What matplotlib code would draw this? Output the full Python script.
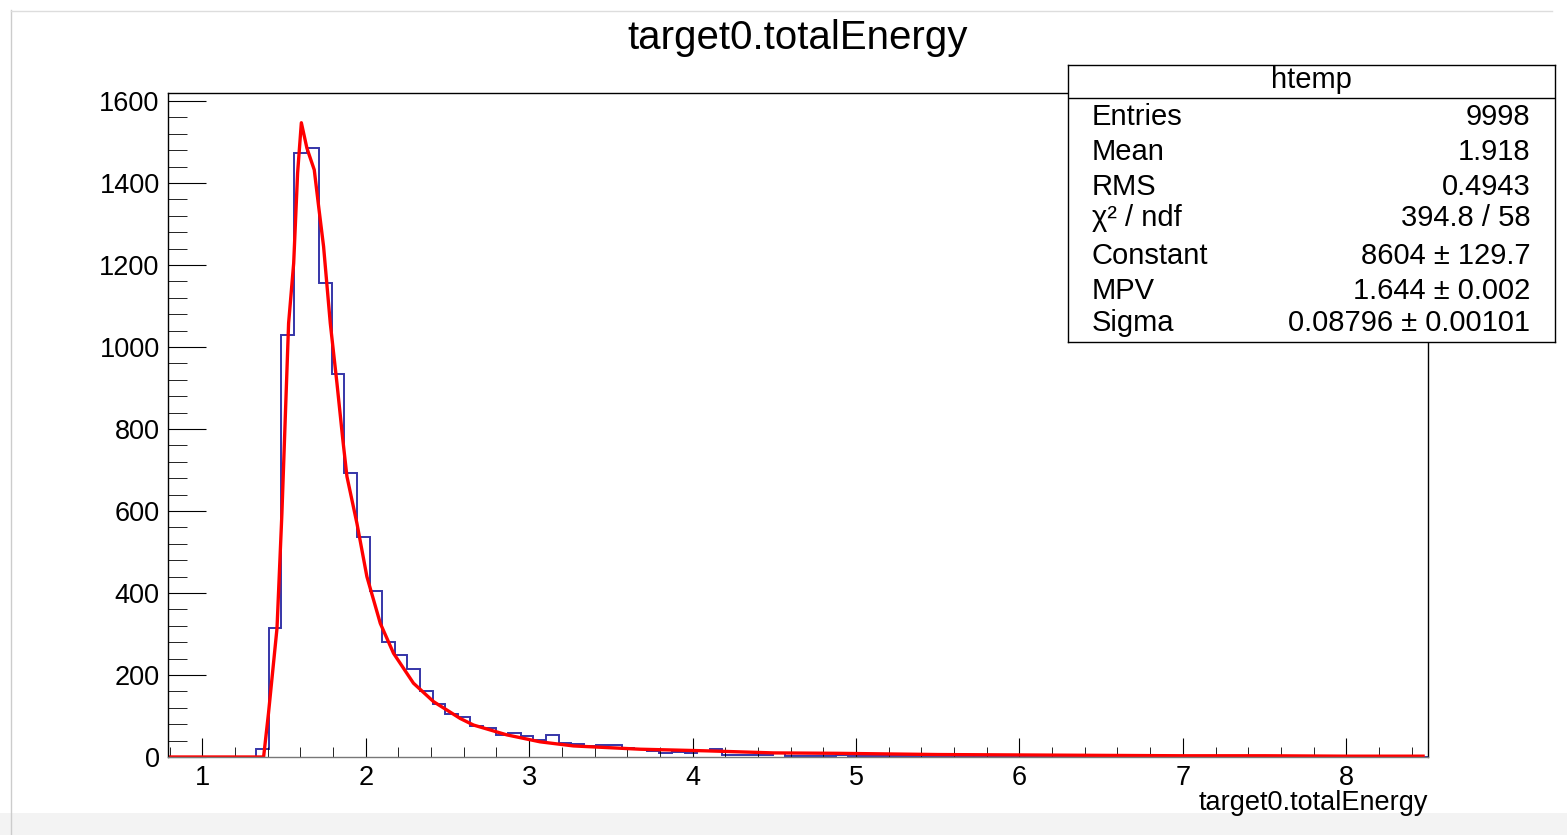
import numpy as np
import matplotlib
matplotlib.use("Agg")
import matplotlib.pyplot as plt
from matplotlib.ticker import MultipleLocator
from matplotlib.lines import Line2D
from matplotlib.patches import Rectangle

plt.rcParams['font.family'] = ['Liberation Sans', 'DejaVu Sans']

# histogram: 100 bins between 0.79 and 8.50
x_min, x_max, n_bins = 0.79, 8.50, 100
counts = [0] * n_bins
first_bins = [20, 314, 1029, 1474, 1486, 1155, 933, 693, 537, 404, 280, 248, 215,
              161, 129, 105, 97, 76, 70, 54, 58, 52, 41, 54, 35, 32, 28, 29, 29,
              22, 20, 15, 10, 12, 10, 15, 19, 5, 5, 5, 5, 9, 3, 3, 3, 3,
              4, 3, 3, 2, 3, 2, 3, 2, 2, 3, 2, 1, 2, 2, 1, 2, 1, 1]
counts[7:7 + len(first_bins)] = first_bins
edges = np.linspace(x_min, x_max, n_bins + 1)

# Landau fit curve
fit_x = [0.79, 1.30, 1.375, 1.405, 1.457, 1.487, 1.528, 1.559, 1.583, 1.606, 1.640,
         1.685, 1.712, 1.742, 1.783, 1.824, 1.860, 1.885, 1.946, 2.007, 2.089, 2.170,
         2.292, 2.415, 2.578, 2.659, 2.863, 3.067, 3.271, 3.679, 4.087, 4.494, 4.88,
         5.5, 6.0, 6.5, 7.0, 7.5, 8.0, 8.47]
fit_y = [0, 0, 0, 107, 314, 594, 1058, 1204, 1424, 1547, 1485, 1432, 1342, 1245,
         1058, 911, 773, 684, 570, 440, 326, 253, 180, 135, 94, 78, 54, 37, 27, 19,
         15, 10, 9, 6, 5, 4, 3, 3, 2, 2]

stat_names = ['Entries', 'Mean', 'RMS', 'χ² / ndf', 'Constant', 'MPV', 'Sigma']
stat_values = ['9998', '1.918', '0.4943', '394.8 / 58', '8604 ± 129.7',
               '1.644 ± 0.002', '0.08796 ± 0.00101']

W, H = 1567, 835
fig = plt.figure(figsize=(W / 100, H / 100), dpi=100)

# faint window frame of the screenshot
fig.add_artist(Rectangle((0, 0), 1, 22 / H, transform=fig.transFigure,
                         color='#f3f3f3', lw=0, zorder=0))
fig.add_artist(Line2D([11 / W, 11 / W], [0, 1 - 10 / H], transform=fig.transFigure,
                      color='#cccccc', lw=1))
fig.add_artist(Line2D([11 / W, 1552 / W], [1 - 10.5 / H, 1 - 10.5 / H],
                      transform=fig.transFigure, color='#dddddd', lw=1))

ax = fig.add_axes([168 / W, 1 - 757 / H, (1428 - 168) / W, (757 - 93) / H])

ax.stairs(counts, edges, color='#3535a8', linewidth=1.4)
ax.plot(fit_x, fit_y, color='#ff0000', linewidth=2.4)

ax.set_xlim(x_min, x_max)
ax.set_ylim(0, 1600 * 1.0122)
ax.xaxis.set_major_locator(MultipleLocator(1))
ax.xaxis.set_minor_locator(MultipleLocator(0.2))
ax.yaxis.set_major_locator(MultipleLocator(200))
ax.yaxis.set_minor_locator(MultipleLocator(40))
ax.tick_params(axis='both', which='both', direction='in', labelsize=19.5)
ax.tick_params(axis='y', which='major', length=27, pad=6)
ax.tick_params(axis='y', which='minor', length=14)
ax.tick_params(axis='x', which='major', length=14, pad=6)
ax.tick_params(axis='x', which='minor', length=7)
for s in ax.spines.values():
    s.set_linewidth(1.0)
ax.spines['bottom'].set_color('#777777')
ax.set_xlabel('target0.totalEnergy', loc='right', fontsize=19.5, labelpad=-1)

fig.text(798 / W, 1 - 38 / H, 'target0.totalEnergy', ha='center', va='center',
         fontsize=29)

# stats box
sb = fig.add_axes([1068 / W, 1 - 342 / H, (1555 - 1068) / W, (342 - 65) / H])
sb.set_xlim(0, 1)
sb.set_ylim(0, 1)
sb.set_xticks([])
sb.set_yticks([])
for s in sb.spines.values():
    s.set_linewidth(1.0)
sb.axhline((342 - 98) / 277, color='black', linewidth=1.0)
sb.text(0.5, (342 - 80) / 277, 'htemp', ha='center', va='center', fontsize=21)
rows_y = [117, 152, 187, 218, 256, 291, 323]
for name, val, yy in zip(stat_names, stat_values, rows_y):
    sb.text(0.049, (342 - yy) / 277, name, ha='left', va='center', fontsize=21)
    sb.text(0.949, (342 - yy) / 277, val, ha='right', va='center', fontsize=21)

fig.savefig('out.png', dpi=100)
